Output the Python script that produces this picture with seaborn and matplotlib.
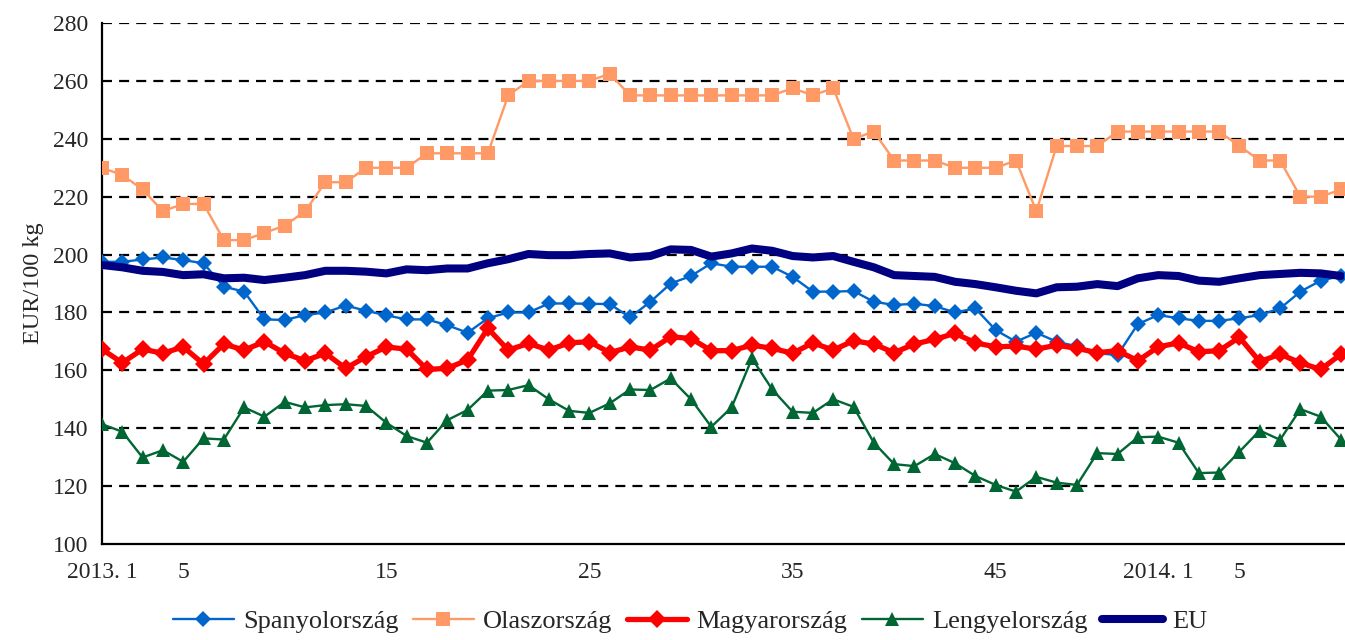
import numpy as np
import pandas as pd
import matplotlib
matplotlib.use('Agg')
import matplotlib.pyplot as plt
import seaborn as sns

## heti adatok: 2013. 1-52. hét + 2014. 1-10. hét
weeks = [f'2013. {w}' for w in range(1, 53)] + [f'2014. {w}' for w in range(1, 11)]

spanyol = [197.5, 197.5, 198.3, 199, 198.1, 197, 188.9, 187.2, 177.6, 177.4,
           179.1, 180, 182.4, 180.6, 179, 177.6, 177.6, 175.6, 173, 178,
           180, 180, 183.1, 183.1, 183, 182.9, 178.3, 183.7, 190, 192.6,
           197, 195.8, 195.8, 195.8, 192.3, 187.2, 187.2, 187.4, 183.7, 182.6,
           183, 182.2, 180, 181.4, 173.9, 169.9, 173, 169.9, 168.3, 165.9,
           165.3, 176, 179.1, 178, 177.1, 177.1, 178, 179.1, 181.4, 187.2,
           191, 192.6]
olasz = [230, 227.5, 222.5, 215, 217.5, 217.5, 205, 205, 207.5, 210,
         215, 225, 225, 230, 230, 230, 235, 235, 235, 235,
         255, 260, 260, 260, 260, 262.5, 255, 255, 255, 255,
         255, 255, 255, 255, 257.5, 255, 257.5, 240, 242.5, 232.5,
         232.5, 232.5, 230, 230, 230, 232.5, 215, 237.5, 237.5, 237.5,
         242.5, 242.5, 242.5, 242.5, 242.5, 242.5, 237.5, 232.5, 232.5, 220,
         220, 222.5]
magyar = [167.3, 162.6, 167.3, 165.9, 168.1, 162.2, 169.1, 167, 169.9, 165.9,
          163.3, 165.9, 160.7, 164.7, 168.1, 167.3, 160.3, 160.7, 163.6, 174.5,
          167, 169.3, 167, 169.5, 169.9, 166.1, 168.1, 167, 171.6, 171,
          166.8, 166.8, 168.7, 167.6, 165.9, 169.5, 167, 170.2, 169.1, 166.1,
          169.1, 170.7, 172.8, 169.5, 168.1, 168.4, 167.3, 168.7, 167.6, 166.1,
          166.8, 163.3, 168.1, 169.5, 166.4, 166.8, 171.4, 163, 165.6, 162.6,
          160.3, 165.6]
lengyel = [141.4, 138.8, 129.9, 132.4, 128.4, 136.5, 136.1, 147.2, 144, 149.1,
           147.2, 148, 148.3, 147.7, 141.9, 137.3, 135, 142.8, 146.3, 153,
           153.2, 154.9, 150, 146, 145.3, 148.6, 153.4, 153.2, 157.2, 150,
           140.5, 147.2, 164.1, 153.4, 145.7, 145.3, 150, 147.4, 135, 127.6,
           126.9, 131.1, 127.9, 123.5, 120.4, 118.1, 123.2, 121.2, 120.4, 131.4,
           131.1, 136.9, 137.1, 135, 124.5, 124.7, 131.9, 139.2, 136, 146.6,
           144, 136.1]
eu = [196.4, 195.6, 194.4, 194, 192.9, 193.2, 191.8, 192, 191.2, 192,
      192.9, 194.4, 194.4, 194.1, 193.5, 194.9, 194.6, 195.2, 195.2, 197,
      198.4, 200.2, 199.8, 199.8, 200.2, 200.4, 199, 199.5, 201.8, 201.6,
      199.3, 200.4, 202.1, 201.3, 199.5, 199, 199.5, 197.5, 195.6, 192.9,
      192.6, 192.3, 190.6, 189.8, 188.7, 187.5, 186.6, 188.7, 188.9, 189.8,
      189.1, 191.8, 192.9, 192.6, 191, 190.6, 191.8, 192.9, 193.3, 193.7,
      193.5, 192.6]

tick_pos = [0, 4, 14, 24, 34, 44, 52, 56]
tick_txt = ['2013. 1', '5', '15', '25', '35', '45', '2014. 1', '5']

df = pd.DataFrame({'idx': np.arange(len(weeks)), 'het': weeks,
                   'Spanyolország': spanyol, 'Olaszország': olasz,
                   'Magyarország': magyar, 'Lengyelország': lengyel, 'EU': eu})

sns.set_style('white')
plt.rcParams['font.family'] = ['Liberation Serif', 'DejaVu Serif']

fig = plt.figure(figsize=(13.45, 6.4), dpi=100)
ax = fig.add_axes([0.0758, 0.15, 0.9235, 0.814])

# (nev, szin, marker, vastagsag, marker meret)
stilus = [('Spanyolország', '#0066CC', 'D', 1.7, 8.5),
          ('Olaszország', '#FF9966', 's', 1.7, 10),
          ('Magyarország', '#FF0000', 'D', 3.8, 9.5),
          ('Lengyelország', '#006633', '^', 1.7, 10.5),
          ('EU', '#000080', None, 5.8, 0)]
for i, (nev, szin, mk, lw, ms) in enumerate(stilus):
    sns.lineplot(data=df, x='idx', y=nev, ax=ax, color=szin, linewidth=lw,
                 marker=mk, markersize=ms, markeredgewidth=0, label=nev,
                 zorder=3 + i)

for v in range(120, 281, 20):
    ax.axhline(v, color='black', linestyle=(0, (4.5, 3.2)), linewidth=1.6, zorder=1)

ax.set_xlim(0, 61.15)
ax.set_ylim(100, 280)
ax.set_yticks(range(100, 281, 20))
ax.set_xticks(range(len(weeks)))
ax.set_xticklabels([tick_txt[tick_pos.index(i)] if i in tick_pos else '' for i in range(len(weeks))])
ax.tick_params(axis='x', direction='out', length=6, width=1.3, pad=7, labelsize=17, color='black')
ax.tick_params(axis='y', direction='out', length=6, width=1.3, pad=4, labelsize=17, color='black')
ax.set_xlabel('')
ax.set_ylabel('EUR/100 kg', fontsize=17.5, labelpad=6)
for s in ['top', 'right']:
    ax.spines[s].set_visible(False)
for s in ['left', 'bottom']:
    ax.spines[s].set_color('black')
    ax.spines[s].set_linewidth(1.6)

ax.get_legend().remove()
h, l = ax.get_legend_handles_labels()
fig.legend(h, l, loc='lower center', bbox_to_anchor=(0.513, -0.026), ncol=5,
           frameon=False, fontsize=19, handlelength=2.3, columnspacing=0.55,
           handletextpad=0.35)

fig.savefig('out.png', dpi=100)
